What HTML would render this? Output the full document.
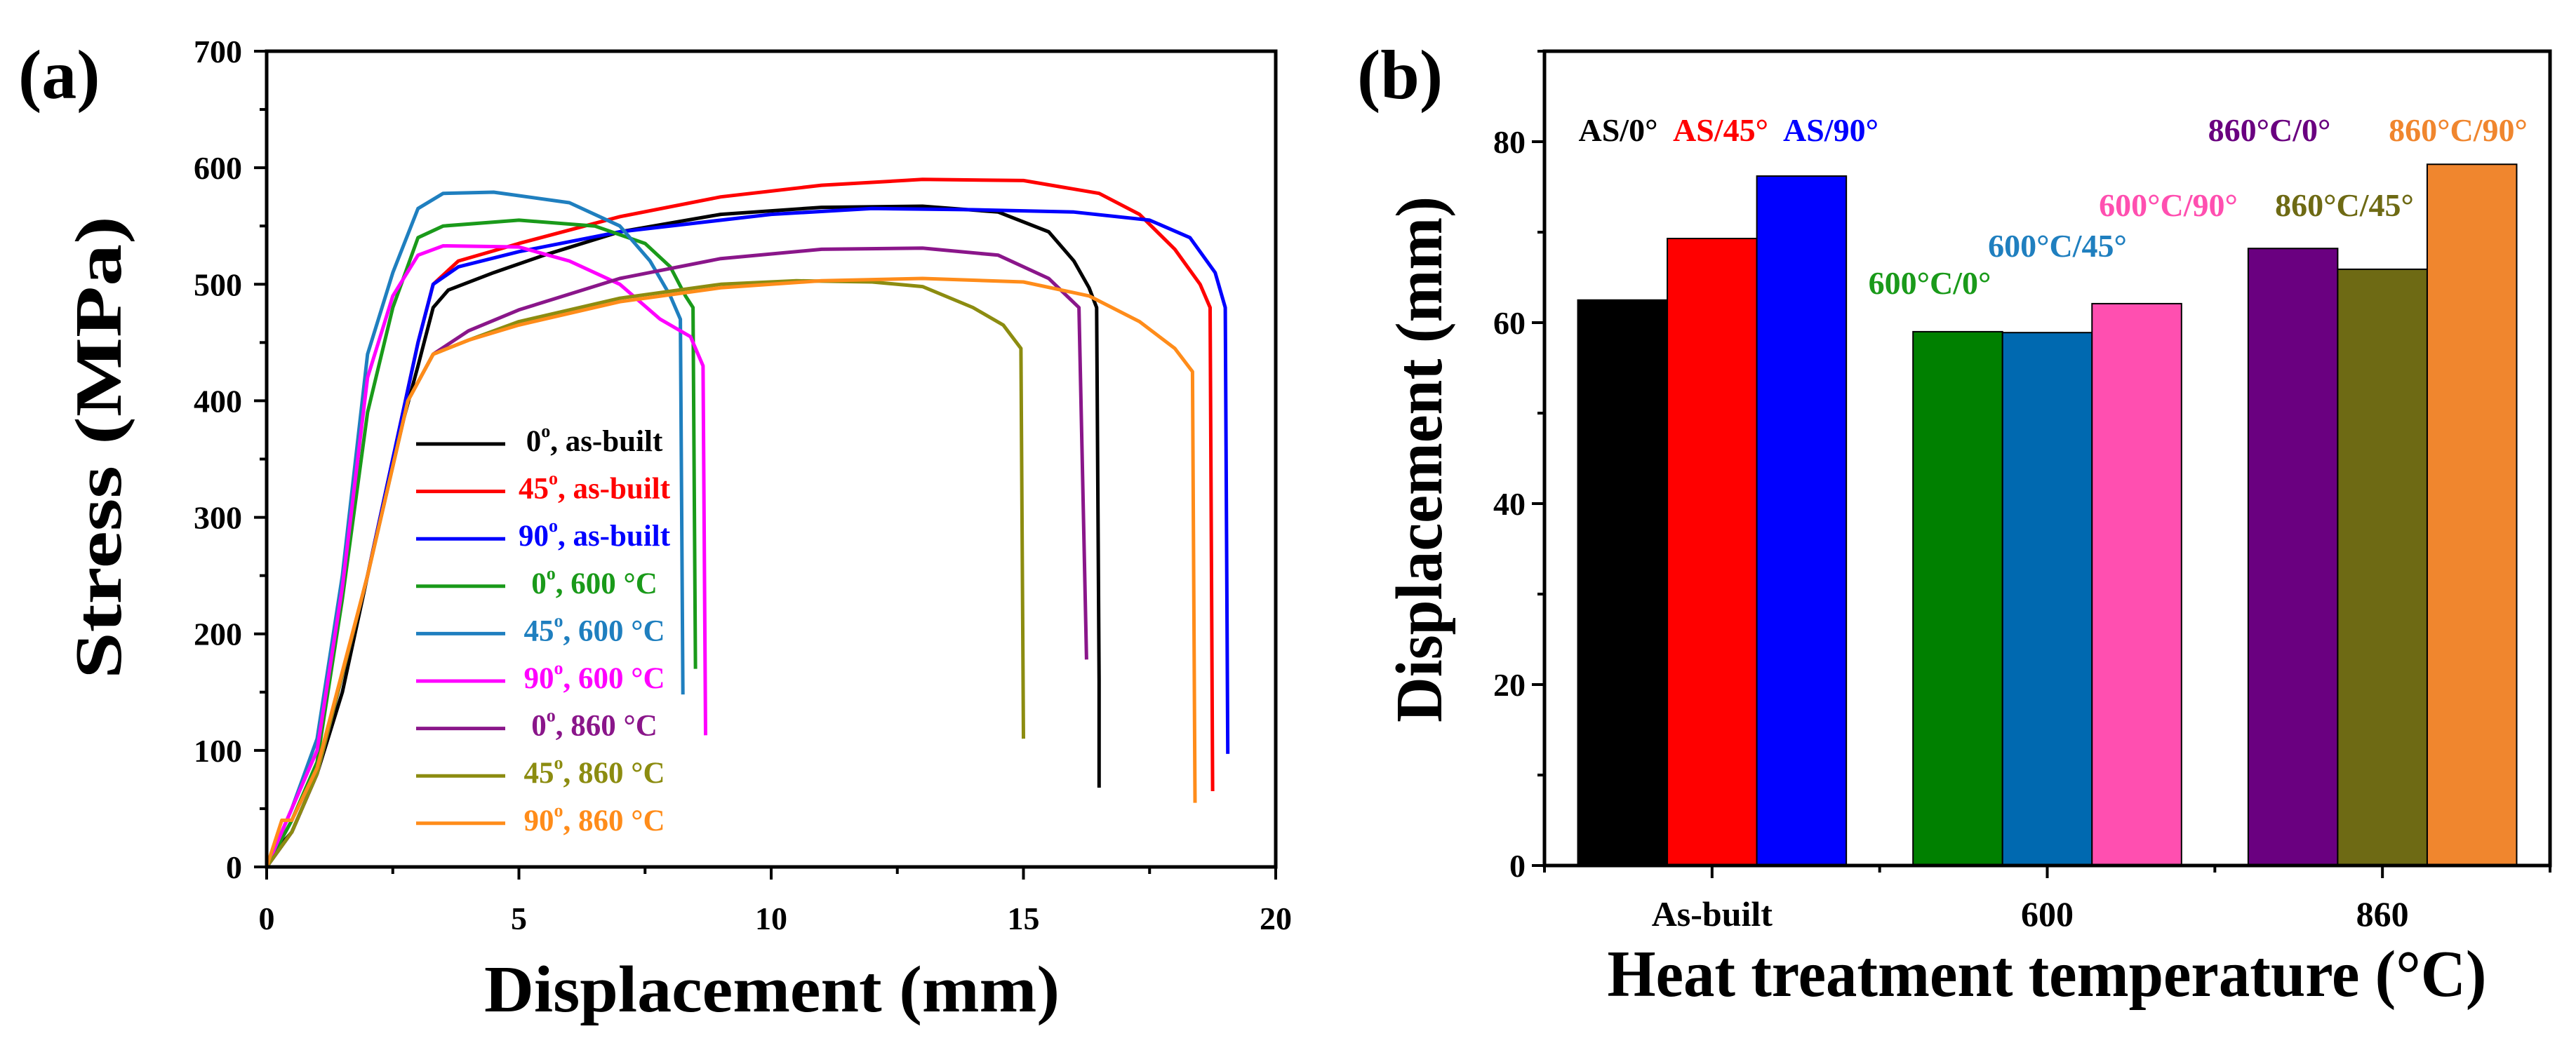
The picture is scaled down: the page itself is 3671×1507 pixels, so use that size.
<!DOCTYPE html>
<html><head><meta charset="utf-8"><style>
html,body{margin:0;padding:0;background:#fff;}
svg{display:block;font-family:"Liberation Serif",serif;font-weight:bold;}
</style></head><body>
<svg id="fig" width="3671" height="1507" viewBox="0 0 3671 1507" xmlns="http://www.w3.org/2000/svg">
<g id="pa"></g>
<g id="pb"></g>
</svg>
<script>
// ---------- Panel (a) data ----------
const aXTicks = [0, 5, 10, 15, 20];
const aYTicks = [0, 100, 200, 300, 400, 500, 600, 700];
const seriesNames = ["0°, as-built","45°, as-built","90°, as-built","0°, 600 °C","45°, 600 °C","90°, 600 °C","0°, 860 °C","45°, 860 °C","90°, 860 °C"];
const seriesColors = ["#000000","#ff0000","#0000ff","#1a9a1a","#1f7fbf","#ff00ff","#8a168a","#8c8c10","#ff8c1a"];
const s0x = [0,0.3,0.5,1,1.5,2,2.5,3,3.3,3.6,4.5,5.5,7,9,11,13,14.5,15.5,16,16.3,16.45,16.5,16.5];
const s0y = [0,20,30,80,150,250,350,430,480,495,510,525,545,560,566,567,562,545,520,497,480,160,68];
const s1x = [0,0.5,1,2,3,3.3,3.8,5,7,9,11,13,15,16.5,17.3,18,18.5,18.7,18.75];
const s1y = [0,30,80,250,450,500,520,535,558,575,585,590,589,578,560,530,500,480,65];
const s2x = [0,0.5,1,2,3,3.3,3.8,5,7,10,12,14,16,17.5,18.3,18.8,19,19.05];
const s2y = [0,30,80,250,450,500,515,528,545,560,565,564,562,555,540,510,480,97];
const s3x = [0,0.5,1,1.5,2,2.5,3,3.5,5,6.5,7.5,8,8.3,8.45,8.5];
const s3y = [0,40,90,230,390,480,540,550,555,550,535,515,490,480,170];
const s4x = [0,0.5,1,1.5,2,2.5,3,3.5,4.5,6,7,7.6,8,8.2,8.25];
const s4y = [0,50,110,250,440,510,565,578,579,570,550,520,490,470,148];
const s5x = [0,0.5,1,1.5,2,2.5,3,3.5,5,6,7,7.8,8.4,8.65,8.7];
const s5y = [0,50,100,240,420,490,525,533,532,520,500,470,455,430,113];
const s6x = [0,0.5,1,2,2.8,3.3,4,5,7,9,11,13,14.5,15.5,16.1,16.25];
const s6y = [0,30,80,250,400,440,460,478,505,522,530,531,525,505,480,178];
const s7x = [0,0.5,1,2,2.8,3.3,4,5,7,9,10.5,12,13,14,14.6,14.95,15];
const s7y = [0,30,80,250,400,440,452,468,488,500,503,502,498,480,465,445,110];
const s8x = [0,0.3,0.5,1,2,2.8,3.3,4,5,7,9,11,13,15,16.3,17.3,18,18.35,18.4];
const s8y = [0,40,40,85,250,400,440,452,465,485,497,503,505,502,490,468,445,425,55];
const seriesX = [s0x,s1x,s2x,s3x,s4x,s5x,s6x,s7x,s8x];
const seriesY = [s0y,s1y,s2y,s3y,s4y,s5y,s6y,s7y,s8y];

// ---------- Panel (b) data ----------
const bCategories = ["As-built","600","860"];
const bYTicks = [0, 20, 40, 60, 80];
const bValues = [62.5, 69.3, 76.2, 59.0, 58.9, 62.1, 68.2, 65.9, 77.5];
const bLabels = ["AS/0°","AS/45°","AS/90°","600°C/0°","600°C/45°","600°C/90°","860°C/0°","860°C/45°","860°C/90°"];
const bColors = ["#000000","#ff0000","#0000ff","#008000","#0069b0","#ff4fb0","#6a0080","#6e6a14","#f0862e"];
const bLabelColors = ["#000000","#ff0000","#0000ff","#1a9a1a","#1f7fbf","#ff4fb0","#6a0080","#6e6a14","#f0862e"];

const NS = "http://www.w3.org/2000/svg";
function mk(parent, tag, attrs, text){
  const e = document.createElementNS(NS, tag);
  for (const k in attrs) e.setAttribute(k, attrs[k]);
  if (text !== undefined) e.textContent = text;
  parent.appendChild(e);
  return e;
}

// ---------- Panel (a) ----------
const pa = document.getElementById("pa");
const aL = 380, aR = 1818, aT = 73, aB = 1236;
const ax = d => aL + (d / 20) * (aR - aL);
const ay = s => aB - (s / 700) * (aB - aT);

for (let i = 0; i < seriesX.length; i++) {
  let d = "";
  seriesX[i].forEach((v, j) => { d += (j ? "L" : "M") + ax(v).toFixed(1) + "," + ay(seriesY[i][j]).toFixed(1); });
  const p = mk(pa, "path", {d: d, fill: "none", stroke: seriesColors[i], "stroke-width": 5, "stroke-linejoin": "round"});
  
  
}
const fa = mk(pa, "rect", {x: aL, y: aT, width: aR - aL, height: aB - aT, fill: "none", stroke: "#000", "stroke-width": 5});


for (let v = 0; v <= 20; v += 2.5) {
  const major = v % 5 === 0;
  const t = mk(pa, "line", {x1: ax(v), x2: ax(v), y1: aB, y2: aB + (major ? 18 : 10), stroke: "#000", "stroke-width": 4});
  
  
}
aXTicks.forEach(v => {
  const t = mk(pa, "text", {x: ax(v), y: 1325, "font-size": 46, "text-anchor": "middle"}, String(v));
  
  
});
for (let v = 0; v <= 700; v += 50) {
  const major = v % 100 === 0;
  const t = mk(pa, "line", {x1: aL, x2: aL - (major ? 18 : 10), y1: ay(v), y2: ay(v), stroke: "#000", "stroke-width": 4});
  
  
}
aYTicks.forEach(v => {
  const t = mk(pa, "text", {x: 345, y: ay(v) + 16, "font-size": 46, "text-anchor": "end"}, String(v));
  
  
});
let t;
t = mk(pa, "text", {x: 1100, y: 1442, "font-size": 94, "text-anchor": "middle", textLength: 820, lengthAdjust: "spacingAndGlyphs"}, "Displacement (mm)");


t = mk(pa, "text", {x: 0, y: 0, "font-size": 94, "text-anchor": "middle", transform: "translate(172,638) rotate(-90)", textLength: 660, lengthAdjust: "spacingAndGlyphs"}, "Stress (MPa)");


t = mk(pa, "text", {x: 26, y: 140, "font-size": 100}, "(a)");


seriesNames.forEach((n, i) => {
  const ly = 633 + i * 67.6;
  const g = mk(pa, "g", {});
  
  
  mk(g, "line", {x1: 593, x2: 720, y1: ly, y2: ly, stroke: seriesColors[i], "stroke-width": 5});
  const k = n.indexOf("°");
  const tx = mk(g, "text", {x: 847, y: ly + 10, "font-size": 43, "text-anchor": "middle", fill: seriesColors[i]});
  mk(tx, "tspan", {}, n.slice(0, k));
  mk(tx, "tspan", {dy: -20, "font-size": 26}, "o");
  mk(tx, "tspan", {dy: 20}, n.slice(k + 1));
});

// ---------- Panel (b) ----------
const pb = document.getElementById("pb");
const bL = 2201, bR = 3634, bT = 73, bB = 1234;
const catW = (bR - bL) / bCategories.length;
const bx = c => bL + (c + 0.5) * catW;
const by = v => bB - (v / 90) * (bB - bT);
const barW = catW * 0.267;
const labelY = [185,185,185,403,350,292,185,292,185];
bValues.forEach((v, i) => {
  const c = Math.floor(i / 3), k = i % 3;
  const x0 = bx(c) + (k - 1.5) * barW;
  const r = mk(pb, "rect", {x: x0, y: by(v), width: barW, height: bB - by(v), fill: bColors[i], stroke: "#000", "stroke-width": 2});
  
  
});
const bLabelX = [2306,2452,2609,2750,2932,3090,3234,3341,3503];
bLabels.forEach((s, i) => {
  const l = mk(pb, "text", {x: bLabelX[i], y: labelY[i] + 16, "font-size": 46, "text-anchor": "middle", fill: bLabelColors[i]}, s);
  
  
});
const fb = mk(pb, "rect", {x: bL, y: bT, width: bR - bL, height: bB - bT, fill: "none", stroke: "#000", "stroke-width": 5});


for (let v = 0; v <= 90; v += 10) {
  const major = v % 20 === 0;
  const tk = mk(pb, "line", {x1: bL, x2: bL - (major ? 18 : 10), y1: by(v), y2: by(v), stroke: "#000", "stroke-width": 4});
  
  
}
bYTicks.forEach(v => {
  const l = mk(pb, "text", {x: 2174, y: by(v) + 16, "font-size": 46, "text-anchor": "end"}, String(v));
  
  
});
for (let c = 0; c <= bCategories.length; c++) {
  const tk = mk(pb, "line", {x1: bL + c * catW, x2: bL + c * catW, y1: bB, y2: bB + 10, stroke: "#000", "stroke-width": 4});
  
  
}
bCategories.forEach((s, c) => {
  const tk = mk(pb, "line", {x1: bx(c), x2: bx(c), y1: bB, y2: bB + 18, stroke: "#000", "stroke-width": 4});
  
  
  const l = mk(pb, "text", {x: bx(c), y: 1320, "font-size": 50, "text-anchor": "middle"}, s);
  
  
});
t = mk(pb, "text", {x: 2917, y: 1420, "font-size": 94, "text-anchor": "middle", textLength: 1253, lengthAdjust: "spacingAndGlyphs"}, "Heat treatment temperature (°C)");


t = mk(pb, "text", {x: 0, y: 0, "font-size": 94, "text-anchor": "middle", transform: "translate(2054,655) rotate(-90)", textLength: 750, lengthAdjust: "spacingAndGlyphs"}, "Displacement (mm)");


t = mk(pb, "text", {x: 1934, y: 140, "font-size": 100}, "(b)");


</script>
</body></html>
